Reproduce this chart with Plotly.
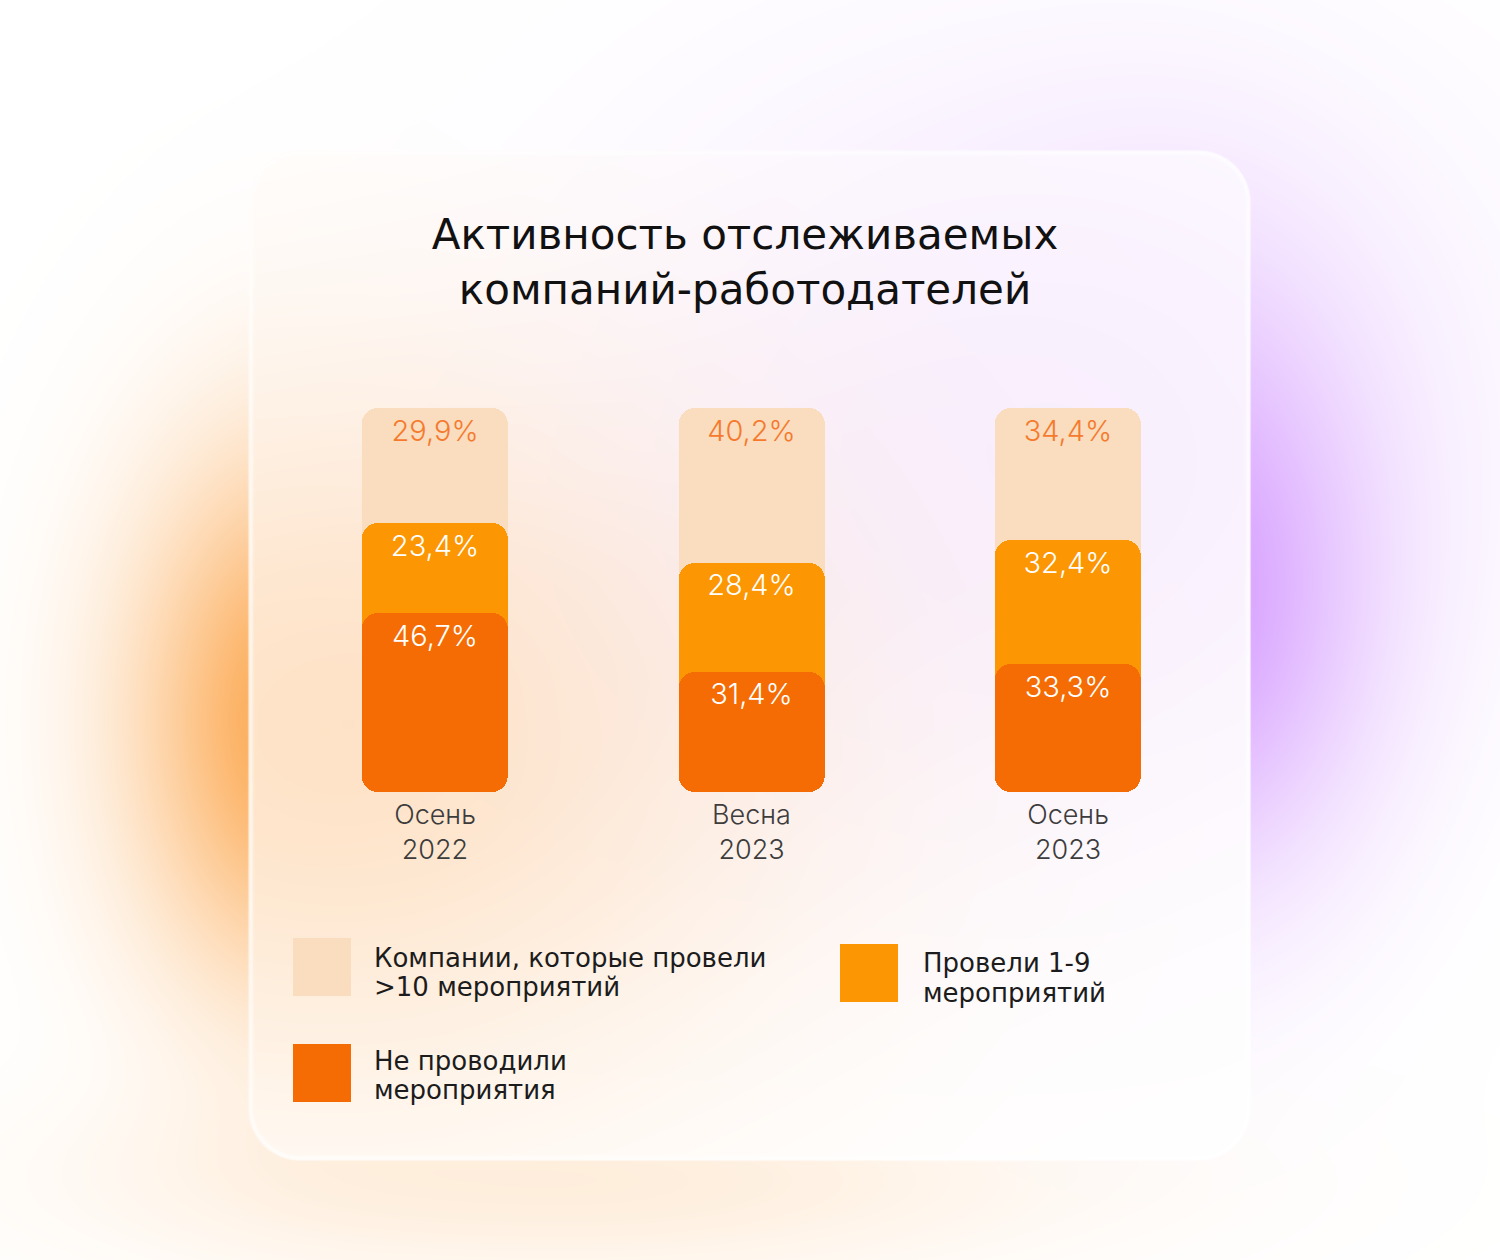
import base64
import struct
import zlib

import numpy as np
import plotly.graph_objects as go

# ---------------- data ----------------
periods = ["Осень 2022", "Весна 2023", "Осень 2023"]
more_than_10 = [29.9, 40.2, 34.4]      # Компании, которые провели >10 мероприятий
one_to_nine = [23.4, 28.4, 32.4]       # Провели 1-9 мероприятий
none_held = [46.7, 31.4, 33.3]         # Не проводили мероприятия

legend_lines = [
    ["Компании, которые провели", "&gt;10 мероприятий"],
    ["Провели 1-9", "мероприятий"],
    ["Не проводили", "мероприятия"],
]
title_text = "Активность отслеживаемых<br>компаний-работодателей"

# ---------------- style ----------------
W, H = 1500, 1260
LIGHT = "#F9DDBE"
MID = "#FC9602"
DARK = "#F46C03"
LABEL_ON_LIGHT = "#F57A2E"
TEXT_DARK = "#1C1C1C"
TICK_COLOR = "#3C3C3C"
LABEL_FONT = "Inter"
TEXT_FONT = "DejaVu Sans"


def fmt(v):
    return f"{v:.1f}".replace(".", ",") + "%"


# ---------------- background (glows + frosted card) ----------------
yy, xx = np.mgrid[0:H, 0:W].astype(np.float64)


def gauss(cx, cy, sx, sy):
    return np.exp(-0.5 * ((xx - cx) / sx) ** 2 - 0.5 * ((yy - cy) / sy) ** 2)


def tint(img, color, t):
    c = np.array(color, dtype=np.float64)
    return img * (1 - t[..., None]) + c * t[..., None]


ORANGE_GLOW = (252, 168, 80)
PURPLE_GLOW = (214, 158, 255)

outside = np.full((H, W, 3), 255.0)
outside = tint(outside, ORANGE_GLOW, 1.0 * gauss(300, 720, 115, 185))
outside = tint(outside, ORANGE_GLOW, 0.2 * gauss(580, 1180, 330, 70))
outside = tint(outside, PURPLE_GLOW, 0.20 * gauss(1050, 350, 300, 220))
outside = tint(outside, PURPLE_GLOW, 1.0 * gauss(1185, 590, 130, 200))

inside = np.full((H, W, 3), 255.0)
inside = tint(inside, ORANGE_GLOW, 0.32 * gauss(330, 730, 330, 260))
inside = tint(inside, PURPLE_GLOW, 0.16 * gauss(1050, 450, 330, 280))

# rounded card
cx0, cx1, cy0, cy1, rad = 248, 1250, 150, 1160, 52
ccx, ccy = (cx0 + cx1) / 2, (cy0 + cy1) / 2
hx, hy = (cx1 - cx0) / 2 - rad, (cy1 - cy0) / 2 - rad
qx = np.abs(xx - ccx) - hx
qy = np.abs(yy - ccy) - hy
dist = (np.sqrt(np.maximum(qx, 0) ** 2 + np.maximum(qy, 0) ** 2)
        + np.minimum(np.maximum(qx, qy), 0) - rad)
mask = np.clip(0.5 - dist, 0, 1)
img = outside * (1 - mask[..., None]) + inside * mask[..., None]
edge = np.exp(-0.5 * ((dist + 2.5) / 1.6) ** 2)
img = tint(img, (255, 255, 255), 0.6 * edge)
img = np.clip(np.round(img), 0, 255).astype(np.uint8)


def png_uri(rgb):
    h, w, _ = rgb.shape
    rows = rgb.reshape(h, w * 3).astype(np.int16)
    up = np.empty_like(rows)
    up[0] = rows[0]
    up[1:] = rows[1:] - rows[:-1]
    up = (up % 256).astype(np.uint8)
    raw = np.hstack([np.full((h, 1), 2, dtype=np.uint8), up]).tobytes()

    def chunk(tag, data):
        c = struct.pack(">I", len(data)) + tag + data
        return c + struct.pack(">I", zlib.crc32(tag + data) & 0xFFFFFFFF)

    png = b"\x89PNG\r\n\x1a\n"
    png += chunk(b"IHDR", struct.pack(">IIBBBBB", w, h, 8, 2, 0, 0, 0))
    png += chunk(b"IDAT", zlib.compress(raw, 9))
    png += chunk(b"IEND", b"")
    return "data:image/png;base64," + base64.b64encode(png).decode()


bg_uri = png_uri(img)

# ---------------- bars ----------------
half_dark = [d / 2 for d in none_held]
top_mid = [d + m for d, m in zip(none_held, one_to_nine)]
top_all = [d + m + l for d, m, l in zip(none_held, one_to_nine, more_than_10)]

BAR_W = 0.46
RADIUS = 16
fig = go.Figure()

common = dict(x=periods, width=BAR_W, hoverinfo="skip", showlegend=False,
              textposition="none")

# light segment (drawn from behind the dark one up to the total)
fig.add_trace(go.Bar(
    base=half_dark, y=[t - b for t, b in zip(top_all, half_dark)],
    marker=dict(color=LIGHT, cornerradius=RADIUS, line=dict(width=0)),
    name="more_than_10", **common))

# mid segment
fig.add_trace(go.Bar(
    base=half_dark, y=[t - b for t, b in zip(top_mid, half_dark)],
    marker=dict(color=MID, cornerradius=RADIUS, line=dict(width=0)),
    name="one_to_nine", **common))

# dark segment (explicit base -> rounded at both ends)
fig.add_trace(go.Bar(
    base=[0 for _ in none_held], y=none_held,
    marker=dict(color=DARK, cornerradius=RADIUS, line=dict(width=0)),
    name="none_held", **common))

# value labels, hung just below the top of each segment
label_sets = [
    (top_all, more_than_10, LABEL_ON_LIGHT),
    (top_mid, one_to_nine, "#FFFFFF"),
    (none_held, none_held, "#FFFFFF"),
]
for tops, vals, col in label_sets:
    fig.add_trace(go.Scatter(
        x=periods, y=tops, mode="markers+text",
        marker=dict(size=16, opacity=0),
        text=[fmt(v) for v in vals], textposition="bottom center",
        textfont=dict(family=LABEL_FONT, size=29, color=col, weight=300),
        hoverinfo="skip", showlegend=False, cliponaxis=False))

# ---------------- legend (large swatches) ----------------
legend_items = [
    (legend_lines[0], LIGHT, 293, 938, 372, (958, 987)),
    (legend_lines[1], MID, 840, 944, 921, (963, 993)),
    (legend_lines[2], DARK, 293, 1044, 372, (1061, 1090)),
]
SW = 58
shapes = []
annotations = []
for lines, color, sx, sy, tx, ys in legend_items:
    shapes.append(dict(type="rect", xref="paper", yref="paper",
                       x0=sx / W, x1=(sx + SW) / W,
                       y0=1 - (sy + SW) / H, y1=1 - sy / H,
                       fillcolor=color, line=dict(width=0), layer="above"))
    for line, ly in zip(lines, ys):
        annotations.append(dict(xref="paper", yref="paper", x=tx / W, y=1 - ly / H,
                                xanchor="left", yanchor="middle", align="left",
                                showarrow=False, text=line,
                                font=dict(family=TEXT_FONT, size=26, color=TEXT_DARK)))

fig.update_layout(
    width=W, height=H,
    margin=dict(l=0, r=0, t=0, b=0),
    paper_bgcolor="#FFFFFF", plot_bgcolor="rgba(0,0,0,0)",
    barmode="overlay",
    bargap=0,
    title=dict(text=title_text, x=745 / W, xanchor="center",
               y=1 - 249 / H, yanchor="middle",
               font=dict(family=TEXT_FONT, size=42, color="#111111")),
    xaxis=dict(domain=[276.75 / W, 1226.25 / W], type="category",
               categoryorder="array", categoryarray=periods,
               tickvals=periods, ticktext=[p.replace(" ", "<br>") for p in periods],
               tickfont=dict(family=LABEL_FONT, size=27, color=TICK_COLOR, weight=300),
               ticklabelstandoff=4,
               showgrid=False, zeroline=False, showline=False, ticks="",
               fixedrange=True),
    yaxis=dict(domain=[1 - 792 / H, 1 - 408 / H], range=[0, max(top_all)],
               visible=False, fixedrange=True),
    images=[dict(source=bg_uri, xref="paper", yref="paper", x=0, y=1,
                 sizex=1, sizey=1, xanchor="left", yanchor="top",
                 sizing="stretch", layer="below")],
    shapes=shapes,
    annotations=annotations,
)

fig.write_html("out.html")
